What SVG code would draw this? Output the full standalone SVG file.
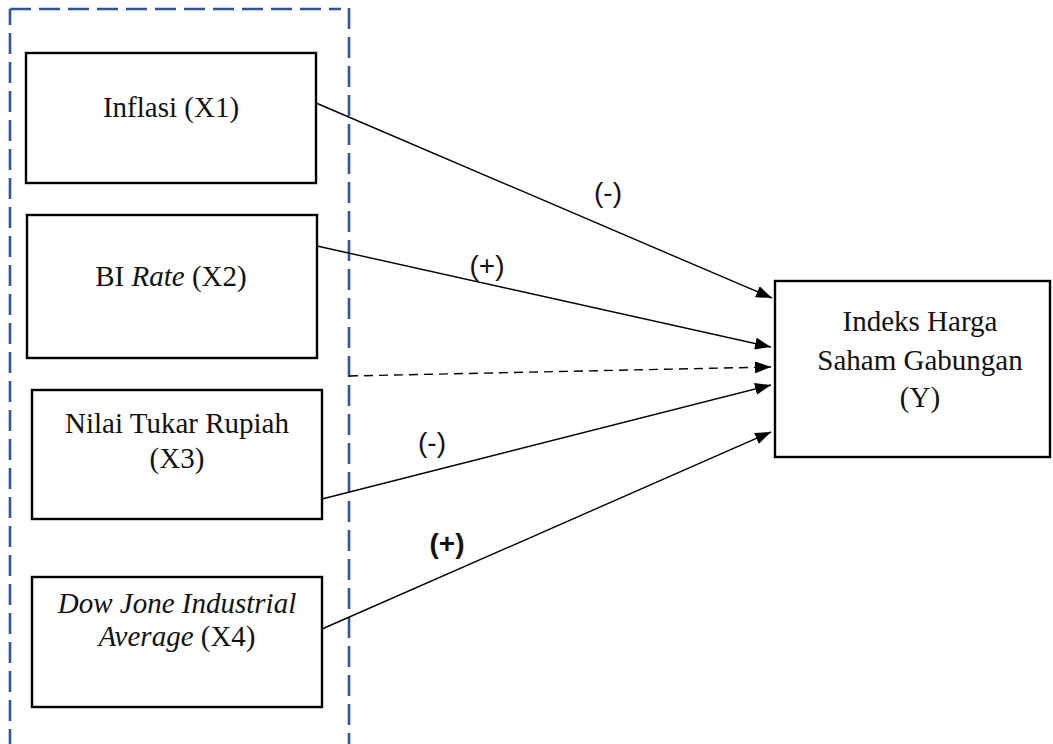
<svg xmlns="http://www.w3.org/2000/svg" width="1053" height="744" viewBox="0 0 1053 744">
<style>
.box{fill:#fff;stroke:#000;stroke-width:2.4}
.t{font-family:"Liberation Serif","DejaVu Serif",serif;font-size:29px;fill:#111;text-anchor:middle}
.lbl{font-family:"Liberation Sans","DejaVu Sans",sans-serif;font-size:28px;fill:#111;text-anchor:middle}
.frame{fill:none;stroke:#2F5597;stroke-width:2.6;stroke-dasharray:21 8}
.c{fill:none;stroke:#000;stroke-width:1.4}
</style>
<defs>
<marker id="a" viewBox="0 0 16 12" refX="16" refY="6" markerWidth="16" markerHeight="12" markerUnits="userSpaceOnUse" orient="auto">
<path d="M0,0 L16,6 L0,12 Z" fill="#000"/>
</marker>
</defs>
<rect width="1053" height="744" fill="#fff"/>
<g id="frame">
<path class="frame" d="M10,750 L10,9"/>
<path class="frame" d="M10,9 L341,9"/>
<path class="frame" d="M349,8 L349,750"/>
</g>
<g id="x1">
<rect class="box" x="26" y="53" width="290" height="130"/>
<text class="t" x="171" y="117">Inflasi (X1)</text>
</g>
<g id="x2">
<rect class="box" x="27" y="215" width="290" height="143"/>
<text class="t" x="171" y="286">BI <tspan font-style="italic">Rate</tspan> (X2)</text>
</g>
<g id="x3">
<rect class="box" x="32" y="390" width="290" height="129"/>
<text class="t" x="177" y="433">Nilai Tukar Rupiah</text>
<text class="t" x="177" y="468">(X3)</text>
</g>
<g id="x4">
<rect class="box" x="32" y="577" width="290" height="130"/>
<text class="t" x="177" y="613"><tspan font-style="italic">Dow Jone Industrial</tspan></text>
<text class="t" x="177" y="646"><tspan font-style="italic">Average</tspan> (X4)</text>
</g>
<g id="y">
<rect class="box" x="775" y="281" width="275" height="176"/>
<text class="t" x="920" y="331">Indeks Harga</text>
<text class="t" x="920" y="370">Saham Gabungan</text>
<text class="t" x="920" y="407">(Y)</text>
</g>
<g id="connectors">
<line class="c" x1="316" y1="103" x2="772" y2="298" marker-end="url(#a)"/>
<line class="c" x1="317" y1="246" x2="771" y2="347" marker-end="url(#a)"/>
<line class="c" x1="349" y1="376" x2="771" y2="367" stroke-dasharray="9 6" marker-end="url(#a)"/>
<line class="c" x1="322" y1="499" x2="771" y2="385" marker-end="url(#a)"/>
<line class="c" x1="322" y1="629" x2="771" y2="432" marker-end="url(#a)"/>
<text class="lbl" x="608" y="202">(-)</text>
<text class="lbl" x="487" y="275">(+)</text>
<text class="lbl" x="432" y="452">(-)</text>
<text class="lbl" x="447" y="553" font-weight="bold">(+)</text>
</g>
</svg>
